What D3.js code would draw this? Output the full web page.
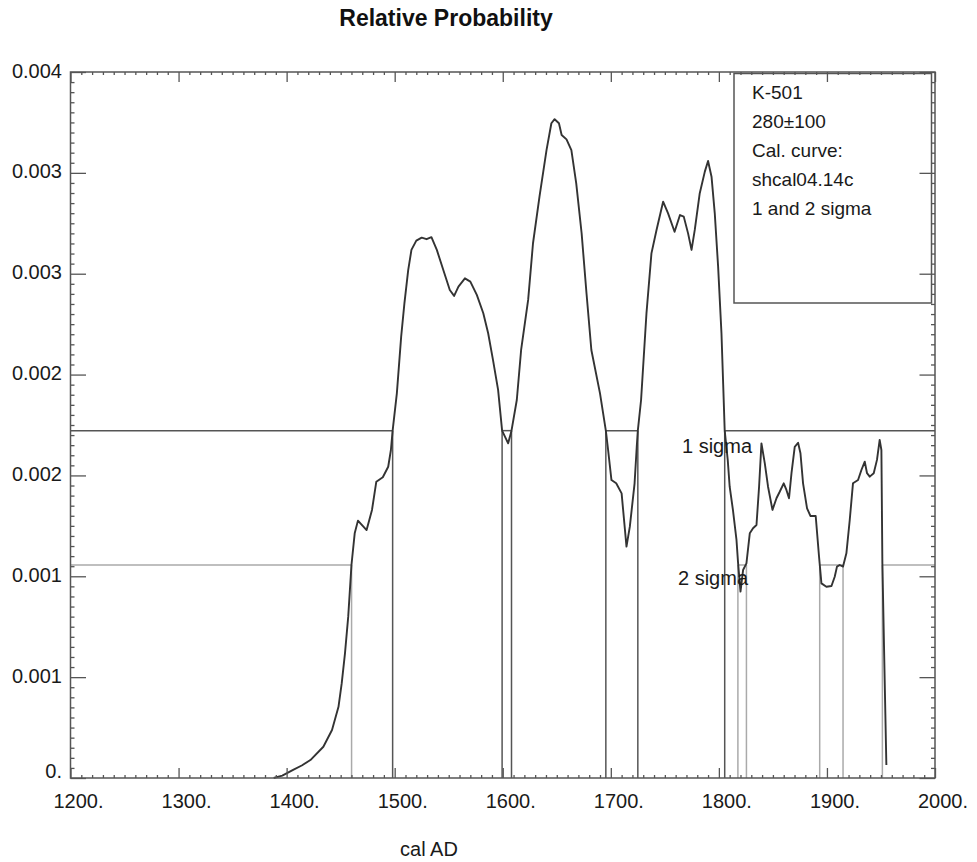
<!DOCTYPE html>
<html>
<head>
<meta charset="utf-8">
<script src="https://cdn.jsdelivr.net/npm/d3@7"></script>
<style>
  html, body { margin: 0; padding: 0; background: #fff; }
  svg { display: block; font-family: "Liberation Sans", Arial, Helvetica, sans-serif; }
</style>
</head>
<body>
<svg id="chart" width="977" height="862"></svg>
<script>
// ---------- DATA ----------
const years = [1388, 1396, 1406, 1414, 1422, 1434, 1442, 1448, 1451, 1454, 1457, 1460, 1463, 1466, 1474, 1479, 1483, 1489, 1494, 1496.5, 1498.1,
  1502, 1506, 1509, 1512.5, 1515.5, 1520, 1525, 1529.5, 1534, 1539, 1545, 1551, 1555, 1559, 1565, 1570, 1576, 1582, 1586.5, 1591,
  1595.7, 1599.4, 1605, 1608.1, 1613, 1617, 1623.5, 1628, 1634, 1640.5, 1645, 1648, 1652, 1654.5, 1659, 1663.5, 1668, 1673, 1677.5, 1682,
  1690, 1695.4, 1697.5, 1700.6, 1705, 1710, 1714.5, 1717.6, 1722, 1724, 1725, 1728, 1733, 1737.6, 1742.3, 1748.4, 1753, 1759, 1764, 1767.5,
  1771.5, 1774.7, 1777.7, 1782.3, 1787, 1790, 1793.2, 1796.2, 1799.3, 1802.4, 1804, 1805.4, 1808.2, 1810, 1813, 1816.3, 1817.8, 1820, 1822.4, 1825.5,
  1828.6, 1831.6, 1834.8, 1837.2, 1839.4, 1842.5, 1845.5, 1849.6, 1853.3, 1856.3, 1860, 1862.5, 1864.9, 1867.2, 1870.2, 1873.3, 1875.5, 1877.9, 1881.6, 1884.7,
  1889.6, 1892.7, 1894.9, 1899.5, 1904.2, 1907.2, 1909.3, 1911.8, 1914.9, 1918, 1921.1, 1924.1, 1928.8, 1931.9, 1935, 1937.1, 1939.6, 1943.3, 1946.3, 1948.8,
  1950.4, 1951.3, 1955];
const probs = [0.0, 0.000012, 0.000040, 0.000062, 0.000089, 0.000155, 0.000238, 0.000353, 0.000470, 0.000618, 0.000800, 0.001056, 0.001213, 0.001276, 0.001229, 0.001329, 0.001469, 0.001491, 0.001543, 0.001626, 0.001722,
  0.001907, 0.002188, 0.002353, 0.002518, 0.002618, 0.002664, 0.002679, 0.002671, 0.002681, 0.002618, 0.002518, 0.002419, 0.002390, 0.002436, 0.002477, 0.002461, 0.002395, 0.002304, 0.002205, 0.002072,
  0.001924, 0.001722, 0.001659, 0.001722, 0.001874, 0.002122, 0.002370, 0.002651, 0.002882, 0.003113, 0.003246, 0.003266, 0.003246, 0.003188, 0.003166, 0.003113, 0.002948, 0.002700, 0.002403, 0.002122,
  0.001907, 0.001722, 0.001626, 0.001477, 0.001461, 0.001411, 0.001147, 0.001246, 0.001461, 0.001642, 0.001722, 0.001874, 0.002304, 0.002601, 0.002717, 0.002857, 0.002799, 0.002708, 0.002791, 0.002783,
  0.002700, 0.002618, 0.002717, 0.002899, 0.003006, 0.003059, 0.002981, 0.002799, 0.002535, 0.002205, 0.001950, 0.001722, 0.001577, 0.001444, 0.001329, 0.001180, 0.001064, 0.000924, 0.001031, 0.001064,
  0.001213, 0.001238, 0.001254, 0.001444, 0.001659, 0.001560, 0.001444, 0.001329, 0.001387, 0.001419, 0.001461, 0.001428, 0.001387, 0.001511, 0.001642, 0.001662, 0.001610, 0.001461, 0.001337, 0.001299,
  0.001299, 0.001097, 0.000965, 0.000948, 0.000952, 0.000998, 0.001048, 0.001056, 0.001048, 0.001114, 0.001279, 0.001461, 0.001477, 0.001527, 0.001568, 0.001511, 0.001494, 0.001511, 0.001577, 0.001676,
  0.001626, 0.001064, 0.000064];

const xTickValues = [1200, 1300, 1400, 1500, 1600, 1700, 1800, 1900, 2000];
const xTickLabels = ["1200.", "1300.", "1400.", "1500.", "1600.", "1700.", "1800.", "1900.", "2000."];
const yTickValues = [0, 0.0005, 0.001, 0.0015, 0.002, 0.0025, 0.003, 0.0035];
const yTickLabels = ["0.", "0.001", "0.001", "0.002", "0.002", "0.003", "0.003", "0.004"];

const sigma1Level = 0.001722;
const sigma2Level = 0.001056;
const sigma1Ranges = [[1498.1, 1599.4], [1608.1, 1695.4], [1725.0, 1805.4]];
const sigma2Ranges = [[1460.1, 1817.6], [1825.5, 1893.3], [1914.9, 1951.3]];

const legendLines = ["K-501", "280\u00b1100", "Cal. curve:", "shcal04.14c", "1 and 2 sigma"];
const titleText = "Relative Probability";
const xTitle = "cal AD";
const sigmaLabels = ["1 sigma", "2 sigma"];

// ---------- LAYOUT ----------
const L = 70.5, R = 935, T = 72, B = 778;
const svg = d3.select("#chart");
const x = d3.scaleLinear().domain([1200, 2000]).range([L, R]);
const y = d3.scaleLinear().domain([0, 0.0035]).range([B, T]);

const frameColor = "#555";
const textColor = "#1a1a1a";

// sigma lines (behind curve)
function complement(ranges) {
  const out = [];
  let start = 1200;
  ranges.forEach(r => { out.push([start, r[0]]); start = r[1]; });
  out.push([start, 2000]);
  return out;
}
function drawSigma(level, ranges, color) {
  const g = svg.append("g").attr("stroke", color).attr("stroke-width", 1.5).attr("fill", "none");
  complement(ranges).forEach(seg => {
    g.append("line").attr("x1", x(seg[0])).attr("x2", x(seg[1]))
      .attr("y1", y(level)).attr("y2", y(level));
  });
  ranges.forEach(r => {
    r.forEach(v => {
      g.append("line").attr("x1", x(v)).attr("x2", x(v))
        .attr("y1", y(level)).attr("y2", y(0));
    });
  });
}
drawSigma(sigma2Level, sigma2Ranges, "#aaa");
drawSigma(sigma1Level, sigma1Ranges, "#555");

// curve
const pts = years.map((yr, i) => [yr, probs[i]]);
svg.append("path")
  .datum(pts)
  .attr("fill", "none")
  .attr("stroke", "#333")
  .attr("stroke-width", 1.9)
  .attr("stroke-linejoin", "round")
  .attr("d", d3.line().x(d => x(d[0])).y(d => y(d[1])));

// legend box
const lg = svg.append("g");
lg.append("rect").attr("x", 734).attr("y", 73.5).attr("width", 197.5).attr("height", 229.5)
  .attr("fill", "#fff").attr("stroke", frameColor).attr("stroke-width", 1.5);
lg.selectAll("text").data(legendLines).enter().append("text")
  .attr("x", 752).attr("y", (d, i) => 99 + i * 29)
  .attr("font-size", 19).attr("fill", textColor).text(d => d);

// axes
const xMinor = d3.range(1200, 2001, 10).filter(v => v % 100 !== 0);
const yMinor = d3.range(0, 71).map(i => i * 0.00005).filter((v, i) => i % 10 !== 0);

function styleAxis(g) {
  g.select(".domain").remove();
  g.selectAll(".tick line").attr("stroke", frameColor).attr("stroke-width", 1.3);
}

// bottom
const gb = svg.append("g").attr("transform", `translate(0,${B})`)
  .call(d3.axisBottom(x).tickValues(xTickValues).tickFormat((d, i) => xTickLabels[i])
    .tickSizeInner(-10).tickSizeOuter(0).tickPadding(15.8));
styleAxis(gb);
gb.selectAll("text").attr("font-size", 20).attr("fill", textColor)
  .attr("font-family", "Liberation Sans, Arial, sans-serif").attr("dx", 7.5);
svg.append("g").attr("transform", `translate(0,${B})`)
  .call(d3.axisBottom(x).tickValues(xMinor).tickFormat("").tickSizeInner(-3).tickSizeOuter(0))
  .call(styleAxis);

// top
svg.append("g").attr("transform", `translate(0,${T})`)
  .call(d3.axisTop(x).tickValues(xTickValues).tickFormat("").tickSizeInner(-10).tickSizeOuter(0))
  .call(styleAxis);
svg.append("g").attr("transform", `translate(0,${T})`)
  .call(d3.axisTop(x).tickValues(xMinor).tickFormat("").tickSizeInner(-3).tickSizeOuter(0))
  .call(styleAxis);

// left
const gl = svg.append("g").attr("transform", `translate(${L},0)`)
  .call(d3.axisLeft(y).tickValues(yTickValues).tickFormat((d, i) => yTickLabels[i])
    .tickSizeInner(-15.5).tickSizeOuter(0).tickPadding(8.5));
styleAxis(gl);
gl.selectAll("text").attr("font-size", 20).attr("fill", textColor)
  .attr("font-family", "Liberation Sans, Arial, sans-serif")
  .attr("dy", (d) => d === 0 ? "-1px" : "5px");
svg.append("g").attr("transform", `translate(${L},0)`)
  .call(d3.axisLeft(y).tickValues(yMinor).tickFormat("").tickSizeInner(-4).tickSizeOuter(0))
  .call(styleAxis);

// right
svg.append("g").attr("transform", `translate(${R},0)`)
  .call(d3.axisRight(y).tickValues(yTickValues).tickFormat("").tickSizeInner(-15.5).tickSizeOuter(0))
  .call(styleAxis);
svg.append("g").attr("transform", `translate(${R},0)`)
  .call(d3.axisRight(y).tickValues(yMinor).tickFormat("").tickSizeInner(-4).tickSizeOuter(0))
  .call(styleAxis);

// frame
svg.append("rect").attr("x", L).attr("y", T).attr("width", R - L).attr("height", B - T)
  .attr("fill", "none").attr("stroke", frameColor).attr("stroke-width", 1.5);

// sigma labels
svg.append("text").attr("x", 682).attr("y", 453).attr("font-size", 20).attr("fill", textColor).text(sigmaLabels[0]);
svg.append("text").attr("x", 678).attr("y", 585).attr("font-size", 20).attr("fill", textColor).text(sigmaLabels[1]);

// titles
svg.append("text").attr("x", 446).attr("y", 26).attr("text-anchor", "middle")
  .attr("font-size", 23).attr("font-weight", "bold").attr("fill", "#111").text(titleText);
svg.append("text").attr("x", 429).attr("y", 856).attr("text-anchor", "middle")
  .attr("font-size", 20).attr("fill", textColor).text(xTitle);
</script>
</body>
</html>
